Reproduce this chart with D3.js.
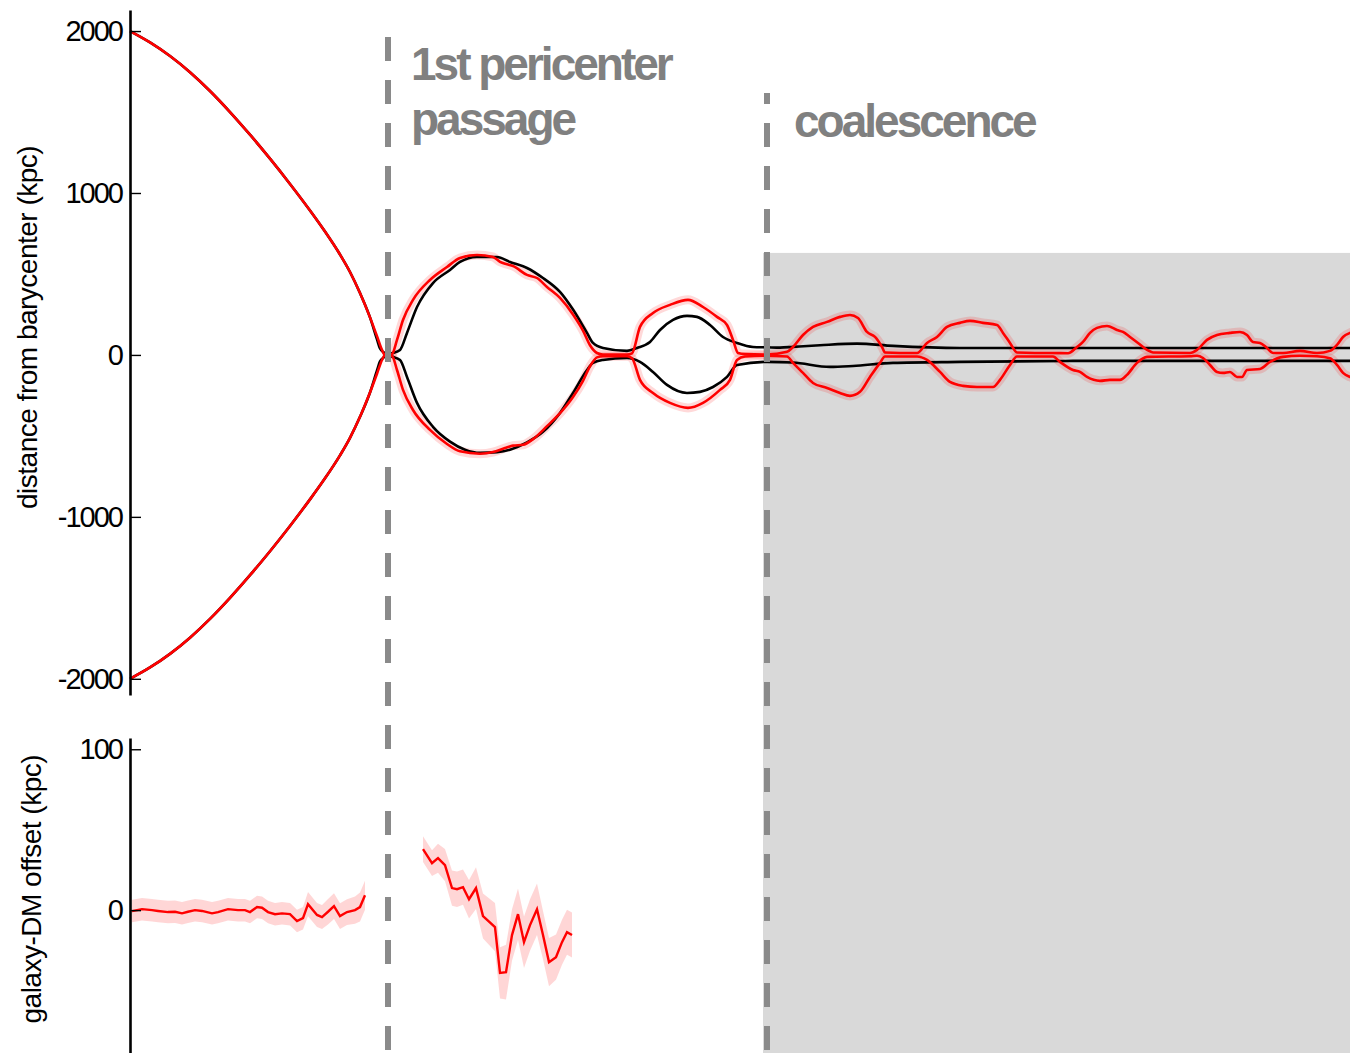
<!DOCTYPE html>
<html>
<head>
<meta charset="utf-8">
<script src="https://cdn.jsdelivr.net/npm/d3@7"></script>
<style>
  body { margin: 0; background: #fff; }
  svg { display: block; font-family: "Liberation Sans", Arial, Helvetica, sans-serif; }
  .tick text { font-size: 29px; letter-spacing: -2px; fill: #000; }
  .ylab { font-size: 28px; letter-spacing: -0.5px; fill: #000; }
  .phase { font-size: 46px; font-weight: bold; letter-spacing: -3px; fill: #808080; }
</style>
</head>
<body>
<svg id="chart" width="1350" height="1053"></svg>
<script>
// time (arbitrary units) / distance from barycenter (kpc)

var infallT = [0, 0.2, 0.4, 0.6, 0.8, 1.0, 1.2, 1.4, 1.6, 1.8, 1.95, 2.1, 2.2, 2.3, 2.4];
var infallV = [2000, 1930, 1846, 1746, 1630, 1500, 1360, 1212, 1056, 892, 762, 620, 512, 382, 232];

var redTailUpper = [
  [2.47, 116], [2.52, 31], [2.55, 0], [2.58, 0], [2.62, 5], [2.67, 93], [2.73, 216], [2.83, 340],
  [3.0, 463], [3.17, 543], [3.3, 599], [3.47, 617], [3.63, 605], [3.7, 575], [3.77, 560],
  [3.83, 549], [3.97, 494], [4.07, 475], [4.17, 420], [4.3, 352], [4.43, 250], [4.53, 150],
  [4.6, 60], [4.67, 12], [4.73, 2], [4.97, 2], [5.02, 10], [5.1, 173], [5.23, 259], [5.4, 309],
  [5.58, 340], [5.73, 296], [5.87, 235], [5.97, 185], [6.03, 93], [6.08, 12], [6.15, 5],
  [6.37, 3], [6.57, 19], [6.63, 49], [6.73, 123], [6.83, 173], [6.97, 204], [7.1, 235],
  [7.2, 247], [7.28, 228], [7.37, 142], [7.45, 111], [7.52, 49], [7.55, 15], [7.7, 12],
  [7.87, 12], [7.97, 74], [8.07, 111], [8.17, 173], [8.3, 198], [8.4, 210], [8.53, 198],
  [8.67, 185], [8.73, 136], [8.8, 74], [8.87, 15], [9.05, 12], [9.23, 12], [9.38, 10],
  [9.47, 49], [9.53, 80], [9.6, 136], [9.67, 167], [9.77, 179], [9.87, 154], [9.93, 142],
  [10.0, 111], [10.08, 74], [10.17, 31], [10.23, 15], [10.6, 12], [10.67, 31], [10.77, 93],
  [10.87, 123], [11.0, 136], [11.1, 142], [11.17, 123], [11.23, 80], [11.3, 74], [11.37, 43],
  [11.43, 12], [11.53, 12], [11.7, 25], [11.87, 12], [12.0, 25], [12.07, 62], [12.13, 111],
  [12.2, 136], [12.3, 150]
];

var redTailLower = [
  [2.47, -116], [2.52, -31], [2.55, 0], [2.58, 0], [2.62, -5], [2.67, -93], [2.73, -216],
  [2.83, -340], [3.0, -463], [3.17, -550], [3.3, -595], [3.5, -610], [3.63, -600], [3.75, -575],
  [3.83, -560], [3.93, -555], [4.03, -520], [4.17, -440], [4.3, -360], [4.43, -260], [4.53, -160],
  [4.6, -70], [4.67, -15], [4.73, -8], [4.97, -8], [5.02, -20], [5.1, -154], [5.23, -235],
  [5.4, -296], [5.58, -327], [5.73, -296], [5.9, -216], [6.0, -154], [6.07, -31], [6.15, -10],
  [6.37, -5], [6.57, -10], [6.63, -49], [6.73, -111], [6.83, -173], [6.97, -204], [7.1, -235],
  [7.2, -253], [7.3, -228], [7.4, -136], [7.5, -49], [7.55, -10], [7.87, -10], [7.97, -31],
  [8.1, -105], [8.2, -167], [8.33, -191], [8.47, -198], [8.63, -198], [8.7, -154], [8.8, -62],
  [8.87, -10], [9.23, -10], [9.3, -43], [9.43, -93], [9.5, -105], [9.57, -136], [9.7, -160],
  [9.8, -154], [9.9, -154], [9.97, -123], [10.07, -49], [10.17, -12], [10.6, -8], [10.67, -5],
  [10.73, -19], [10.8, -62], [10.87, -105], [10.93, -111], [11.0, -105], [11.07, -136],
  [11.12, -136], [11.17, -93], [11.3, -87], [11.4, -43], [11.53, -12], [11.7, -5], [11.87, -8],
  [12.0, -20], [12.07, -62], [12.13, -111], [12.2, -136], [12.3, -150]
];

var blackTailUpper = [
  [2.47, 96], [2.5, 40], [2.54, 15], [2.58, 0], [2.62, 10], [2.7, 31], [2.77, 136], [2.87, 296],
  [3.03, 444], [3.2, 525], [3.3, 574], [3.47, 605], [3.67, 605], [3.8, 574], [3.97, 537],
  [4.13, 475], [4.3, 389], [4.43, 280], [4.57, 136], [4.63, 74], [4.73, 43], [4.97, 25],
  [5.07, 43], [5.2, 80], [5.3, 154], [5.43, 216], [5.57, 241], [5.67, 235], [5.8, 185],
  [5.93, 111], [6.07, 74], [6.23, 49], [6.37, 47], [6.5, 45], [6.63, 50], [6.9, 60], [7.27, 70],
  [7.63, 56], [8.3, 43], [9.3, 43], [12.3, 43]
];

var blackTailLower = [
  [2.47, -96], [2.5, -40], [2.54, -15], [2.58, 0], [2.62, -10], [2.7, -31], [2.77, -136],
  [2.87, -296], [3.03, -444], [3.2, -535], [3.35, -585], [3.5, -605], [3.67, -600], [3.8, -585],
  [3.97, -540], [4.13, -475], [4.3, -358], [4.43, -235], [4.57, -93], [4.63, -49], [4.73, -31],
  [4.97, -19], [5.1, -43], [5.23, -105], [5.37, -185], [5.57, -235], [5.7, -228], [5.83, -198],
  [5.97, -136], [6.07, -62], [6.37, -43], [6.63, -47], [7.0, -74], [7.23, -68], [7.63, -49],
  [8.3, -43], [9.43, -37], [12.3, -37]
];

// galaxy-DM offset (kpc), with its error
var offsetBeforeT = [0.02, 0.12, 0.22, 0.28, 0.38, 0.45, 0.52, 0.58, 0.65, 0.72, 0.82, 0.88, 0.98,
  1.08, 1.15, 1.2, 1.27, 1.32, 1.38, 1.45, 1.52, 1.6, 1.67, 1.73, 1.78, 1.87, 1.92, 1.98, 2.04,
  2.1, 2.17, 2.25, 2.3, 2.35];
var offsetBeforeV = [-0.6, 0.6, 0, -0.5, -1.2, -1, -2, -1, 0, -0.5, -2, -1.2, 0.6, 0, 0, -1.2,
  1.9, 1.5, -1.2, -2.5, -2, -2.5, -6.8, -5, 3.7, -3, -4.3, -1, 2.5, -3.7, -1.2, 0, 1.9, 9.3];
var offsetBeforeErr = [7, 7, 7, 7, 7, 7, 7, 7, 7, 7, 7, 7, 7, 7, 7, 7, 7, 7, 7, 7, 7, 7, 7, 7,
  7.5, 7.5, 7.5, 8, 8, 8, 8, 8.5, 9, 9];

var offsetAfterT = [2.93, 3.02, 3.08, 3.15, 3.22, 3.27, 3.33, 3.39, 3.46, 3.53, 3.65, 3.7, 3.76,
  3.82, 3.88, 3.94, 4.0, 4.07, 4.13, 4.19, 4.26, 4.32, 4.37, 4.42];
var offsetAfterV = [37.9, 29.2, 32.3, 28, 13.7, 13, 14.3, 6.8, 13.7, -3.7, -10.6, -39, -38.5,
  -15.5, -2.5, -19.9, -9.3, 0.6, -15.5, -32.3, -29.2, -19.9, -13.7, -15.5];
var offsetAfterErr = [8, 8, 9, 10, 11, 11, 11, 12, 13, 14, 15, 16, 17, 16, 16, 16, 16, 16, 15, 15,
  14, 14, 14, 14];

var distTicks = [-2000, -1000, 0, 1000, 2000];
var offsetTicks = [0, 100];

var pericenterT = 2.58;
var coalescenceT = 6.37;
var phaseLabels = [
  { t: pericenterT, lines: ['1st pericenter', 'passage'] },
  { t: coalescenceT, lines: ['coalescence'] }
];

(function () {
  'use strict';

  var svg = d3.select('#chart');

  var x = d3.scaleLinear().domain([0, 12.2]).range([130, 1350]);
  var yTop = d3.scaleLinear().domain([-2100, 2130]).range([695, 10]);
  var yBot = d3.scaleLinear().domain([-88.8, 107]).range([1053, 738]);

  function join(tail, sign) {
    var pts = infallT.map(function (t, i) { return [t, sign * infallV[i]]; });
    return pts.concat(tail);
  }

  var redUpper = join(redTailUpper, 1);
  var redLower = join(redTailLower, -1);
  var blackUpper = join(blackTailUpper, 1);
  var blackLower = join(blackTailLower, -1);

  /*====================================
  Coalescence shading
  ======================================*/

  svg.append('rect')
    .attr('x', x(coalescenceT) - 4)
    .attr('y', yTop(630))
    .attr('width', 1350 - x(coalescenceT) + 4)
    .attr('height', 1053 - yTop(630))
    .attr('fill', '#d9d9d9');

  /*====================================
  Top panel: distance from barycenter
  ======================================*/

  var lineTop = d3.line()
    .x(function (d) { return x(d[0]); })
    .y(function (d) { return yTop(d[1]); })
    .curve(d3.curveMonotoneX);

  var top = svg.append('g');

  [redUpper, redLower].forEach(function (s) {
    top.append('path')
      .attr('d', lineTop(s.filter(function (d) { return d[0] >= pericenterT; })))
      .attr('fill', 'none')
      .attr('stroke', 'rgba(255,0,0,0.15)')
      .attr('stroke-width', 9)
      .attr('stroke-linejoin', 'round');
  });

  [blackUpper, blackLower].forEach(function (s) {
    top.append('path')
      .attr('d', lineTop(s))
      .attr('fill', 'none')
      .attr('stroke', '#000')
      .attr('stroke-width', 2.6);
  });

  [redUpper, redLower].forEach(function (s) {
    top.append('path')
      .attr('d', lineTop(s))
      .attr('fill', 'none')
      .attr('stroke', '#ff0000')
      .attr('stroke-width', 2.6);
  });

  /*====================================
  Bottom panel: galaxy-DM offset
  ======================================*/

  var bot = svg.append('g');

  var areaBot = d3.area()
    .x(function (d) { return x(d.t); })
    .y0(function (d) { return yBot(d.v - d.e); })
    .y1(function (d) { return yBot(d.v + d.e); });

  var lineBot = d3.line()
    .x(function (d) { return x(d.t); })
    .y(function (d) { return yBot(d.v); });

  [[offsetBeforeT, offsetBeforeV, offsetBeforeErr],
   [offsetAfterT, offsetAfterV, offsetAfterErr]].forEach(function (s) {
    var pts = s[0].map(function (t, i) { return { t: t, v: s[1][i], e: s[2][i] }; });
    bot.append('path')
      .attr('d', areaBot(pts))
      .attr('fill', 'rgba(255,0,0,0.16)');
    bot.append('path')
      .attr('d', lineBot(pts))
      .attr('fill', 'none')
      .attr('stroke', '#ff0000')
      .attr('stroke-width', 2.4);
  });

  /*====================================
  Axes
  ======================================*/

  function drawAxis(scale, ticks) {
    var g = svg.append('g')
      .attr('transform', 'translate(' + x(0) + ',0)')
      .call(d3.axisRight(scale).tickValues(ticks).tickSize(11).tickSizeOuter(0)
        .tickFormat(function (d) { return String(d); }));
    g.select('.domain').attr('stroke-width', 2.6);
    g.selectAll('.tick line').attr('stroke-width', 1.4);
    g.selectAll('.tick text')
      .attr('x', -8)
      .attr('text-anchor', 'end');
    g.attr('font-size', null).attr('font-family', null);
    return g;
  }

  drawAxis(yTop, distTicks);
  drawAxis(yBot, offsetTicks);

  svg.append('text')
    .attr('class', 'ylab')
    .attr('transform', 'translate(37,' + yTop(170) + ') rotate(-90)')
    .attr('text-anchor', 'middle')
    .text('distance from barycenter (kpc)');

  svg.append('text')
    .attr('class', 'ylab')
    .attr('transform', 'translate(41,' + yBot(13) + ') rotate(-90)')
    .attr('text-anchor', 'middle')
    .text('galaxy-DM offset (kpc)');

  /*====================================
  Phase markers
  ======================================*/

  var dashTop = [37, 93];
  phaseLabels.forEach(function (p, i) {
    svg.append('line')
      .attr('x1', x(p.t)).attr('x2', x(p.t))
      .attr('y1', dashTop[i]).attr('y2', 1053)
      .attr('stroke', '#8a8a8a')
      .attr('stroke-width', 6)
      .attr('stroke-dasharray', '24,19')
      .attr('stroke-dashoffset', i === 0 ? 0 : 13);

    var lx = x(p.t) + (i === 0 ? 23 : 27);
    var txt = svg.append('text')
      .attr('class', 'phase')
      .attr('x', lx)
      .attr('y', i === 0 ? 80 : 137);
    p.lines.forEach(function (l, j) {
      txt.append('tspan')
        .attr('x', lx)
        .attr('dy', j === 0 ? 0 : 55)
        .text(l);
    });
  });

}());
</script>
</body>
</html>
